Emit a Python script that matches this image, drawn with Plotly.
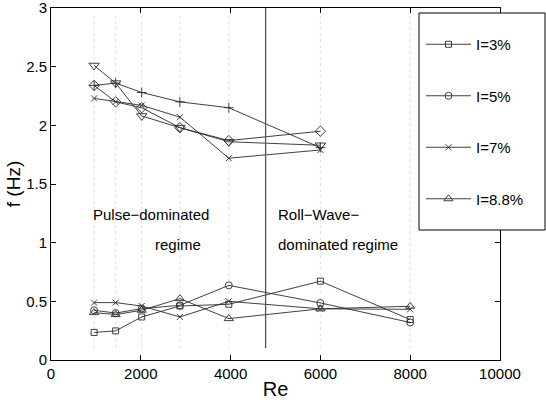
import plotly.graph_objects as go

# ---- data ----
Re = [960, 1440, 2020, 2870, 3960, 6000, 8000]
f_I3 = [0.235, 0.248, 0.367, 0.46, 0.475, 0.672, 0.345]
f_I5 = [0.424, 0.40, 0.438, 0.466, 0.636, 0.486, 0.32]
f_I7 = [0.489, 0.489, 0.46, 0.367, 0.50, 0.436, 0.432]
f_I88 = [0.404, 0.387, 0.424, 0.523, 0.353, 0.436, 0.458]

Re_up = [960, 1440, 2020, 2870, 3960, 6000]
f_up_tri = [2.51, 2.36, 2.08, 1.98, 1.86, 1.83]
f_up_dia = [2.34, 2.20, 2.15, 1.98, 1.87, 1.95]
f_up_plus = [2.34, 2.36, 2.28, 2.20, 2.15, 1.81]
f_up_x = [2.23, 2.20, 2.17, 2.07, 1.72, 1.79]

labels = ["I=3%", "I=5%", "I=7%", "I=8.8%"]
x_ticks = [0, 2000, 4000, 6000, 8000, 10000]
y_ticks = [0, 0.5, 1, 1.5, 2, 2.5, 3]
y_ticktext = ["0", "0.5", "1", "1.5", "2", "2.5", "3"]
Re_boundary = 4780

FONT = "Liberation Sans, Arial, sans-serif"
LC = "#2a2a2a"

fig = go.Figure()

low = [(f_I3, "square-open", 6), (f_I5, "circle-open", 7),
       (f_I7, "x-thin-open", 6), (f_I88, "triangle-up-open", 8)]
for i, (ys, sym, sz) in enumerate(low):
    fig.add_trace(go.Scatter(
        x=Re, y=ys, mode="lines+markers", name=labels[i],
        legendgroup=labels[i],
        line=dict(color=LC, width=0.9),
        marker=dict(symbol=sym, size=sz, color=LC, line=dict(color=LC, width=0.9)),
    ))

up = [(f_up_tri, "triangle-down-open", 9), (f_up_dia, "diamond-open", 8),
      (f_up_plus, "cross-thin-open", 7), (f_up_x, "x-thin-open", 6)]
for ys, sym, sz in up:
    fig.add_trace(go.Scatter(
        x=Re_up, y=ys, mode="lines+markers", showlegend=False,
        line=dict(color=LC, width=0.9),
        marker=dict(symbol=sym, size=sz, color=LC, line=dict(color=LC, width=0.9)),
    ))

TOP, BOT, LEFT, RIGHT = 8, 360, 51, 500
W, H = float(RIGHT - LEFT), float(BOT - TOP)

shapes = []
for xv in Re:
    shapes.append(dict(type="line", xref="x", yref="y", x0=xv, x1=xv, y0=0.1, y1=2.93,
                       line=dict(color="#dedede", width=1, dash="dot"), layer="below"))
shapes.append(dict(type="line", xref="x", yref="y", x0=Re_boundary, x1=Re_boundary,
                   y0=0.1, y1=3, line=dict(color="#555555", width=1.3)))
# legend box
shapes.append(dict(type="rect", xref="paper", yref="paper",
                   x0=(419 - LEFT) / W, x1=(545 - LEFT) / W,
                   y0=(BOT - 230) / H, y1=(BOT - 13) / H,
                   fillcolor="white", line=dict(color="black", width=1), layer="above"))

ann = [
    dict(x=890, y=1.237, text="Pulse−dominated", xanchor="left"),
    dict(x=2830, y=0.983, text="regime", xanchor="center"),
    dict(x=5010, y=1.237, text="Roll−Wave−", xanchor="left"),
    dict(x=5010, y=0.983, text="dominated regime", xanchor="left"),
]
annotations = [dict(a, xref="x", yref="y", showarrow=False, yanchor="middle",
                    font=dict(family=FONT, size=15, color="black")) for a in ann]

fig.update_layout(
    width=546, height=409,
    margin=dict(l=LEFT, r=546 - RIGHT, t=TOP, b=409 - BOT, autoexpand=False),
    paper_bgcolor="white", plot_bgcolor="white",
    font=dict(family=FONT, size=15, color="black"),
    shapes=shapes, annotations=annotations,
    legend=dict(x=(421 - LEFT) / W, y=(BOT - 28) / H, xanchor="left", yanchor="top",
                bgcolor="rgba(0,0,0,0)", borderwidth=0, tracegroupgap=29,
                font=dict(family=FONT, size=15, color="black"), itemwidth=45),
)
fig.update_xaxes(range=[0, 10000.5], tickvals=x_ticks, ticktext=[str(v) for v in x_ticks],
                 showgrid=False, zeroline=False, ticklabeloverflow="allow", automargin=False,
                 showline=True, linecolor="black", linewidth=1, mirror="ticks",
                 ticks="inside", ticklen=5, tickcolor="black",
                 title=dict(text="Re", font=dict(size=20), standoff=0))
fig.update_yaxes(range=[0, 3], tickvals=y_ticks, ticktext=y_ticktext,
                 showgrid=False, zeroline=False, ticklabeloverflow="allow", automargin=False,
                 showline=True, linecolor="black", linewidth=1, mirror="ticks",
                 ticks="inside", ticklen=5, tickcolor="black",
                 title=dict(text="f (Hz)", font=dict(size=19), standoff=0))

fig.write_html("out.html")
